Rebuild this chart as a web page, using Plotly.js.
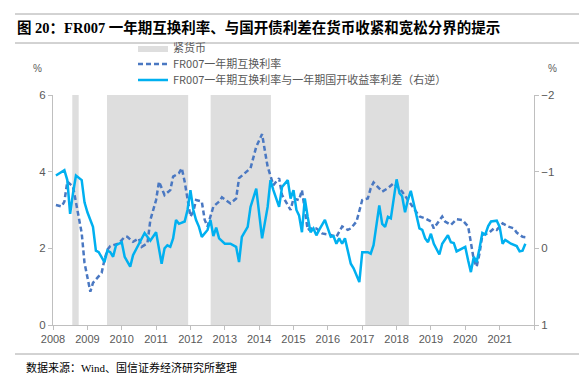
<!DOCTYPE html>
<html>
<head>
<meta charset="utf-8">
<script src="https://cdn.plot.ly/plotly-3.0.1.min.js"></script>
<style>
html,body{margin:0;padding:0;background:#fff;}
#chart{width:579px;height:373px;}
</style>
</head>
<body>
<div id="chart"></div>
<script>
// Tight-money periods (紧货币)
const tightStart = ['2008-07-24','2009-07-28','2012-08-03','2017-02-02'];
const tightEnd   = ['2008-09-30','2011-12-08','2014-05-06','2018-05-12'];

// FR007 one-year swap rate (%), left axis
const swapDates = ['2008-02','2008-04','2008-05','2008-06','2008-08','2008-09','2008-11','2008-12',
'2009-02','2009-03','2009-05','2009-06','2009-07','2009-08','2009-09','2009-11','2009-12',
'2010-02','2010-03','2010-05','2010-07','2010-08','2010-10','2010-11',
'2011-01','2011-02','2011-04','2011-06','2011-07','2011-09','2011-10','2011-11','2011-12',
'2012-01','2012-02','2012-03','2012-05','2012-06','2012-07','2012-09','2012-11','2012-12',
'2013-03','2013-05','2013-06','2013-08','2013-10','2013-12',
'2014-02','2014-03','2014-04','2014-06','2014-08','2014-09','2014-12',
'2015-01','2015-03','2015-04','2015-06','2015-07','2015-09','2015-11',
'2016-02','2016-04','2016-06','2016-08','2016-09','2016-11',
'2017-01','2017-03','2017-04','2017-05','2017-08','2017-10','2017-12',
'2018-03','2018-05','2018-07','2018-09','2018-11',
'2019-01','2019-02','2019-05','2019-06','2019-08','2019-10','2019-12',
'2020-02','2020-03','2020-04','2020-05','2020-06','2020-07','2020-09','2020-11','2020-12',
'2021-02','2021-04','2021-06','2021-07','2021-09','2021-10'];
const swapVals = [3.13,3.09,3.22,3.74,3.61,3.18,2.40,1.62,
0.87,1.10,1.26,1.36,1.70,1.96,2.06,2.11,2.13,
2.30,2.30,2.17,2.26,2.04,2.13,2.74,
3.26,3.74,3.39,3.52,3.87,3.96,4.09,3.74,3.26,
2.83,2.96,3.26,3.22,2.74,2.57,3.09,3.22,3.33,
3.17,3.30,3.83,3.96,4.09,4.65,
4.98,4.57,4.13,3.65,3.83,3.39,3.00,
3.30,3.26,3.52,2.48,2.52,2.52,2.39,
2.35,2.30,2.57,2.48,2.52,2.70,
3.26,3.30,3.57,3.72,3.48,3.57,3.70,
3.48,3.26,3.04,2.83,2.78,
2.70,2.52,2.83,2.70,2.61,2.76,2.74,
2.57,2.13,1.70,1.52,1.87,2.35,2.39,2.52,2.48,
2.65,2.57,2.52,2.41,2.30,2.29];

// Spread: FR007 1y swap minus 1y CDB yield (right axis, reversed)
const spreadDates = ['2008-02','2008-05','2008-06','2008-07','2008-08','2008-09','2008-11','2008-12',
'2009-01','2009-03','2009-04','2009-05','2009-07','2009-08','2009-09','2009-10','2009-11',
'2010-01','2010-02','2010-04','2010-05','2010-07','2010-09','2010-11',
'2011-01','2011-03','2011-04','2011-05','2011-06','2011-07','2011-08','2011-09','2011-11','2011-12',
'2012-01','2012-02','2012-03','2012-04','2012-05','2012-07','2012-08','2012-09','2012-10','2012-11',
'2013-01','2013-03','2013-05','2013-06','2013-07','2013-09','2013-10','2013-12',
'2014-01','2014-02','2014-04','2014-05','2014-06','2014-08','2014-09','2014-11','2014-12',
'2015-01','2015-02','2015-03','2015-04','2015-05','2015-06','2015-07','2015-08','2015-09','2015-10','2015-12',
'2016-01','2016-02','2016-03','2016-04','2016-05','2016-06','2016-07','2016-08','2016-09','2016-10','2016-12',
'2017-01','2017-03','2017-04','2017-05','2017-07','2017-08','2017-09','2017-10','2017-11',
'2018-01','2018-02','2018-03','2018-04','2018-05','2018-06','2018-08','2018-09','2018-10','2018-11','2018-12',
'2019-01','2019-02','2019-03','2019-04','2019-05','2019-07','2019-08','2019-09','2019-10','2019-12',
'2020-01','2020-02','2020-03','2020-04','2020-05','2020-06','2020-07','2020-08','2020-09','2020-10','2020-12',
'2021-01','2021-02','2021-03','2021-05','2021-07','2021-08','2021-09','2021-10'];
const spreadVals = [-0.95,-1.02,-0.89,-0.45,-0.72,-0.95,-0.89,-0.60,
-0.47,-0.28,0.03,0.05,0.18,0.03,0.05,0.11,-0.04,
-0.08,0.11,0.24,0.09,-0.06,-0.20,-0.10,
-0.21,0.20,0.00,-0.04,-0.02,-0.13,-0.37,-0.32,-0.35,-0.50,
-0.76,-0.50,-0.37,-0.28,-0.15,-0.24,-0.37,-0.16,-0.27,-0.13,
-0.06,-0.06,-0.02,0.18,-0.15,-0.28,-0.54,-0.78,
-0.41,-0.13,-0.54,-0.89,-0.76,-0.54,-0.80,-0.89,-0.65,
-0.76,-0.50,-0.43,-0.21,-0.65,-0.41,-0.21,-0.26,-0.17,-0.24,-0.37,
-0.26,-0.15,-0.16,-0.06,-0.13,-0.06,-0.13,0.03,0.20,0.26,0.44,
0.05,0.05,0.07,-0.04,-0.56,-0.32,-0.28,-0.41,-0.39,
-0.90,-0.72,-0.68,-0.47,-0.63,-0.75,-0.45,-0.26,-0.24,-0.13,-0.08,
-0.19,-0.06,0.00,0.08,-0.06,-0.17,-0.08,-0.07,0.04,0.00,
-0.02,0.16,0.31,0.11,0.18,0.00,-0.20,-0.18,-0.29,-0.35,-0.36,
-0.28,-0.06,-0.11,-0.06,-0.03,0.04,0.03,-0.06];

const yearTicks = ['2008','2009','2010','2011','2012','2013','2014','2015','2016','2017','2018','2019','2020','2021',''];
const leftTicks = [0,2,4,6];
const rightTicks = [-2,-1,0,1];

const txt = '#595959';
const axc = '#BFBFBF';
const cjk = '"Noto Sans CJK SC", "Liberation Sans", sans-serif';

const traces = [];
for (let i = 0; i < tightStart.length; i++) {
  traces.push({
    type: 'scatter', mode: 'lines',
    x: [tightStart[i], tightStart[i], tightEnd[i], tightEnd[i], tightStart[i]],
    y: [0, 6, 6, 0, 0],
    fill: 'toself', fillcolor: '#DEDEDE',
    line: {width: 0, color: '#DEDEDE'},
    name: '紧货币', legendgroup: 'tight', showlegend: i === 0,
    legend: 'legend', hoverinfo: 'skip'
  });
}
traces.push({
  type: 'scatter', mode: 'lines', x: swapDates, y: swapVals,
  name: 'FR007一年期互换利率',
  line: {color: '#4A78C2', width: 2.5, dash: '5px,3px'},
  legend: 'legend2'
});
traces.push({
  type: 'scatter', mode: 'lines', x: spreadDates, y: spreadVals, yaxis: 'y2',
  name: 'FR007一年期互换利率与一年期国开收益率利差（右逆）',
  line: {color: '#00B0F0', width: 2.5},
  legend: 'legend3'
});

const tickVals = yearTicks.map((t, i) => (2008 + i) + '-01-01');

function legendAt(ypx) {
  return {
    x: (133 - 53) / 481, xanchor: 'left',
    y: 1 + (95 - ypx) / 230, yanchor: 'middle',
    bgcolor: 'rgba(0,0,0,0)', borderwidth: 0,
    font: {family: cjk, size: 11, color: txt},
    itemwidth: 30
  };
}

const layout = {
  width: 579, height: 373,
  margin: {l: 53, r: 45, t: 95, b: 48},
  paper_bgcolor: '#fff', plot_bgcolor: '#fff',
  font: {family: '"Liberation Sans", Arial, sans-serif', size: 11, color: txt},
  title: {
    text: '<b>图 20：FR007 一年期互换利率、与国开债利差在货币收紧和宽松分界的提示</b>',
    xref: 'container', yref: 'container', x: 17 / 579, xanchor: 'left',
    y: 1 - 28 / 373, yanchor: 'middle',
    font: {family: '"Liberation Serif", "Noto Sans CJK SC", serif', size: 14.5, color: '#000'}
  },
  xaxis: {
    type: 'date', range: ['2008-01-01', '2022-01-01'],
    tickmode: 'array', tickvals: tickVals, ticktext: yearTicks,
    ticks: 'outside', ticklen: 4, tickcolor: axc,
    showline: true, linecolor: axc, linewidth: 1,
    showgrid: false, zeroline: false,
    tickfont: {size: 11, color: txt}
  },
  yaxis: {
    range: [0, 6], tickmode: 'array', tickvals: leftTicks,
    ticks: 'outside', ticklen: 4, tickcolor: axc,
    showline: true, linecolor: axc, linewidth: 1,
    showgrid: false, zeroline: false,
    tickfont: {size: 11.5, color: txt}
  },
  yaxis2: {
    overlaying: 'y', side: 'right', range: [1, -2],
    tickmode: 'array', tickvals: rightTicks,
    ticks: 'outside', ticklen: 4, tickcolor: axc,
    showline: true, linecolor: axc, linewidth: 1,
    showgrid: false, zeroline: false,
    tickfont: {size: 11.5, color: txt}
  },
  legend: legendAt(48),
  legend2: legendAt(64),
  legend3: legendAt(80),
  annotations: [
    {xref: 'paper', yref: 'paper', x: (37 - 53) / 481, y: 1 + (95 - 68) / 230,
     text: '%', showarrow: false, font: {size: 10, color: txt}, xanchor: 'center', yanchor: 'middle'},
    {xref: 'paper', yref: 'paper', x: (552 - 53) / 481, y: 1 + (95 - 68) / 230,
     text: '%', showarrow: false, font: {size: 10, color: txt}, xanchor: 'center', yanchor: 'middle'},
    {xref: 'paper', yref: 'paper', x: (24 - 53) / 481, y: -(367 - 325) / 230,
     text: '数据来源：Wind、国信证券经济研究所整理', showarrow: false,
     font: {family: '"Liberation Serif", "Noto Sans CJK SC", serif', size: 11, color: '#000'},
     xanchor: 'left', yanchor: 'middle'}
  ],
  shapes: [
    {type: 'line', xref: 'paper', yref: 'paper', x0: (15 - 53) / 481, x1: (579 - 53) / 481,
     y0: 1 + (95 - 14) / 230, y1: 1 + (95 - 14) / 230, line: {color: '#A6A6A6', width: 1}},
    {type: 'line', xref: 'paper', yref: 'paper', x0: (15 - 53) / 481, x1: (579 - 53) / 481,
     y0: 1 + (95 - 43) / 230, y1: 1 + (95 - 43) / 230, line: {color: '#A6A6A6', width: 1}},
    {type: 'line', xref: 'paper', yref: 'paper', x0: (15 - 53) / 481, x1: (579 - 53) / 481,
     y0: -(354 - 325) / 230, y1: -(354 - 325) / 230, line: {color: '#A6A6A6', width: 1}}
  ]
};

Plotly.newPlot('chart', traces, layout, {displayModeBar: false, staticPlot: true});
</script>
</body>
</html>
